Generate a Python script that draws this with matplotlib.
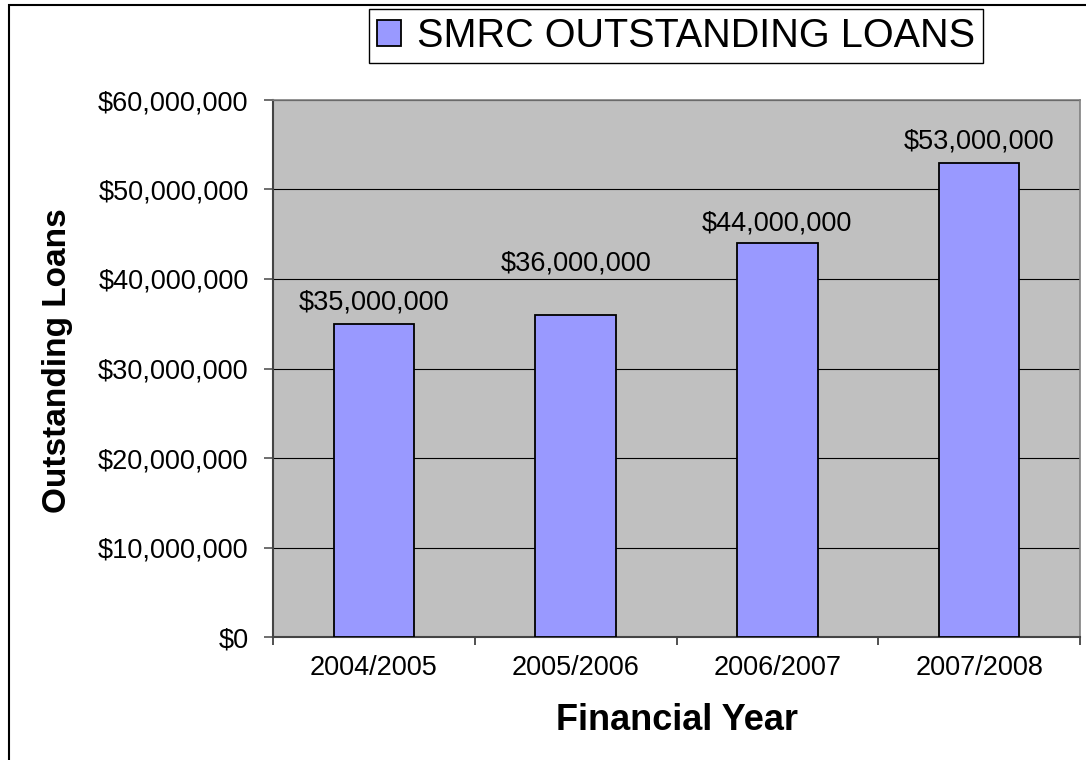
import matplotlib.pyplot as plt
from matplotlib.patches import Rectangle
from matplotlib.ticker import FuncFormatter, FixedLocator

years = ['2004/2005', '2005/2006', '2006/2007', '2007/2008']
loans = [35000000, 36000000, 44000000, 53000000]
series_name = 'SMRC OUTSTANDING LOANS'

plt.rcParams['font.family'] = ['Liberation Sans', 'DejaVu Sans']

fig = plt.figure(figsize=(10.86, 7.6), dpi=100)
ax = fig.add_axes([273 / 1086, 1 - 637 / 760, 807 / 1086, 537 / 760])
ax.set_facecolor('#C0C0C0')

x = list(range(len(years)))
bars = ax.bar(x, loans, width=0.4, color='#9999FF', edgecolor='black',
              linewidth=1.3, label=series_name, zorder=3)

# value labels above bars (the second one sits above the gridline, as in the original)
label_gap = [10, 32, 9, 10]
for xi, v, gap in zip(x, loans, label_gap):
    ax.annotate(f'${v:,.0f}', (xi, v), xytext=(0, gap), textcoords='offset points',
                ha='center', va='baseline', fontsize=19.5, color='black')

ax.set_xlim(-0.5, len(years) - 0.5)
ax.set_ylim(0, 60000000)
ax.set_yticks(range(0, 60000001, 10000000))
ax.yaxis.set_major_formatter(FuncFormatter(lambda v, p: f'${v:,.0f}'))
ax.grid(axis='y', color='black', linewidth=0.8, zorder=1)
ax.set_axisbelow(True)

ax.set_xticks(x)
ax.set_xticklabels(years)
ax.xaxis.set_minor_locator(FixedLocator([i - 0.5 for i in range(len(years) + 1)]))
ax.tick_params(axis='x', which='major', length=0, pad=13, labelsize=19.5)
ax.tick_params(axis='x', which='minor', length=6, width=1.2, color='#333333')
ax.tick_params(axis='y', length=6.5, width=1.2, color='#555555', pad=11, labelsize=19.5)

for side in ['left', 'bottom']:
    ax.spines[side].set_color('#444444')
    ax.spines[side].set_linewidth(1.5)
for side in ['top', 'right']:
    ax.spines[side].set_color('#808080')
    ax.spines[side].set_linewidth(1.2)

ax.set_ylabel('Outstanding Loans', fontsize=24, fontweight='bold', va='center')
ax.yaxis.set_label_coords(-0.267, 0.515)
ax.set_xlabel('Financial Year', fontsize=26, fontweight='bold', va='center')
ax.xaxis.set_label_coords(0.501, -0.155)

leg = ax.legend(loc='center', bbox_to_anchor=(676 / 1086, 1 - 36 / 760),
                bbox_transform=fig.transFigure, fontsize=28.5, frameon=True,
                fancybox=False, framealpha=1, edgecolor='black',
                handlelength=0.62, handleheight=0.62, handletextpad=0.4,
                borderpad=0.2, borderaxespad=0)
leg.get_frame().set_linewidth(1.0)

# outer chart border
fig.patches.append(Rectangle((8.5 / 1086, -0.1), 1.2, 1 - 5 / 760 + 0.1,
                             transform=fig.transFigure, fill=False,
                             edgecolor='black', linewidth=1.5))

fig.savefig('out.png', dpi=100)
